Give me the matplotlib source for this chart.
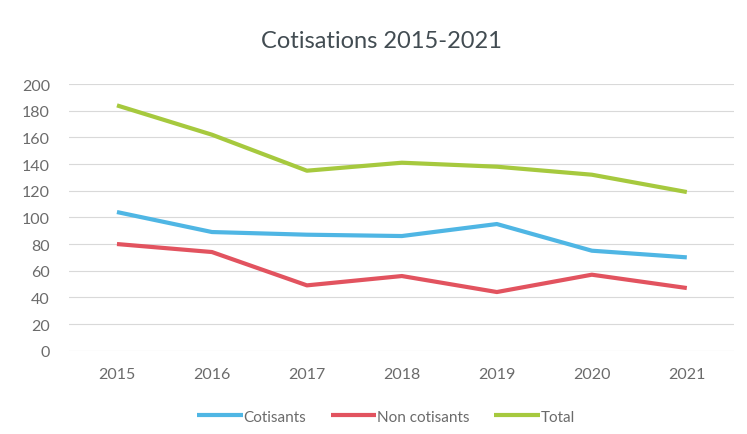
import matplotlib.pyplot as plt

# Data
years = ["2015", "2016", "2017", "2018", "2019", "2020", "2021"]
cotisants = [104, 89, 87, 86, 95, 75, 70]
non_cotisants = [80, 74, 49, 56, 44, 57, 47]
total = [184, 162, 135, 141, 138, 132, 119]

plt.rcParams['font.family'] = ['Lato', 'DejaVu Sans']

fig = plt.figure(figsize=(7.47, 4.35), dpi=100)
ax = fig.add_axes([0.093, 0.1915, 0.89, 0.613])

x = list(range(len(years)))
ax.plot(x, cotisants, color='#4fb6e4', lw=3, label='Cotisants', solid_capstyle='butt')
ax.plot(x, non_cotisants, color='#e2535f', lw=3, label='Non cotisants', solid_capstyle='butt')
ax.plot(x, total, color='#a6c93e', lw=3, label='Total', solid_capstyle='butt')

ax.set_xlim(-0.5, len(years) - 0.5)
ax.set_ylim(0, 200)
ax.set_yticks(range(0, 201, 20))
ax.set_xticks(x)
ax.set_xticklabels(years)

ax.grid(axis='y', color='#d9d9d9', lw=0.8)
ax.set_axisbelow(True)
for s in ax.spines.values():
    s.set_visible(False)
ax.tick_params(length=0, labelsize=11.5, colors='#6b6b6b')
ax.tick_params(axis='x', pad=12)
ax.tick_params(axis='y', pad=14)

fig.text(0.51, 0.88, 'Cotisations 2015-2021', ha='center', va='bottom',
         fontsize=17, color='#424c52')

ax.legend(loc='upper center', bbox_to_anchor=(0.476, -0.17), ncol=3, frameon=False,
          fontsize=11, labelcolor='#6b6b6b', handlelength=3.0, handletextpad=0.05,
          columnspacing=1.6)

fig.savefig('out.png', dpi=100)
